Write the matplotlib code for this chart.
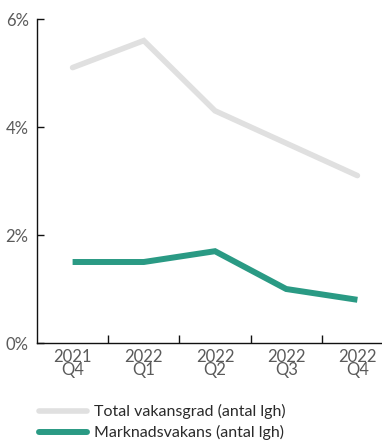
import matplotlib
matplotlib.use("Agg")
import matplotlib.pyplot as plt
from matplotlib.lines import Line2D
from matplotlib.ticker import FixedLocator

quarters = ["2021\nQ4", "2022\nQ1", "2022\nQ2", "2022\nQ3", "2022\nQ4"]
total_vakans = [5.1, 5.6, 4.3, 3.7, 3.1]
marknad_vakans = [1.5, 1.5, 1.7, 1.0, 0.8]
series_names = ["Total vakansgrad (antal lgh)", "Marknadsvakans (antal lgh)"]
y_ticks = [0, 2, 4, 6]

GREY = "#e0e0e0"
GREEN = "#2a9a84"
TEXT = "#5a5a5a"

plt.rcParams["font.family"] = ["Lato", "DejaVu Sans"]

W, H = 382, 442
fig = plt.figure(figsize=(W / 100, H / 100), dpi=100)
# axes box in pixels: left 37, right 393 (runs past the edge), top 19, bottom 343
ax = fig.add_axes([37 / W, (H - 343) / H, (393 - 37) / W, (343 - 19) / H])

x = list(range(len(quarters)))
ax.plot(x, total_vakans, color=GREY, lw=4.0, solid_capstyle="round", solid_joinstyle="miter")
ax.plot(x, marknad_vakans, color=GREEN, lw=4.3, solid_capstyle="butt", solid_joinstyle="miter")

ax.set_xlim(-0.5, len(quarters) - 0.5)
ax.set_ylim(0, 6)

for side in ("top", "right"):
    ax.spines[side].set_visible(False)
for side in ("left", "bottom"):
    ax.spines[side].set_color("#111111")
    ax.spines[side].set_linewidth(1.0)

ax.set_yticks(y_ticks)
ax.set_yticklabels([f"{v}%" for v in y_ticks])
ax.tick_params(axis="y", direction="in", length=5, width=1.0, color="#111111",
               labelsize=12, labelcolor=TEXT, pad=6)

# category labels centred, tick marks at the boundaries between quarters
ax.set_xticks(x)
ax.set_xticklabels(quarters, linespacing=0.8)
ax.tick_params(axis="x", which="major", length=0, labelsize=12, labelcolor=TEXT, pad=4)
ax.xaxis.set_minor_locator(FixedLocator([i + 0.5 for i in x[:-1]]))
ax.tick_params(axis="x", which="minor", direction="in", length=6, width=1.0, color="#111111")

handles = [Line2D([], [], color=GREY, lw=4.0, solid_capstyle="round"),
           Line2D([], [], color=GREEN, lw=4.3, solid_capstyle="round")]
leg = fig.legend(handles, series_names, loc="upper left",
                 bbox_to_anchor=(33 / W, (H - 398) / H), frameon=False,
                 handlelength=3.0, handletextpad=0.45, labelspacing=0.35,
                 fontsize=11.5, borderaxespad=0)
for t in leg.get_texts():
    t.set_color("#2a2a2a")

fig.savefig("out.png", dpi=100)
